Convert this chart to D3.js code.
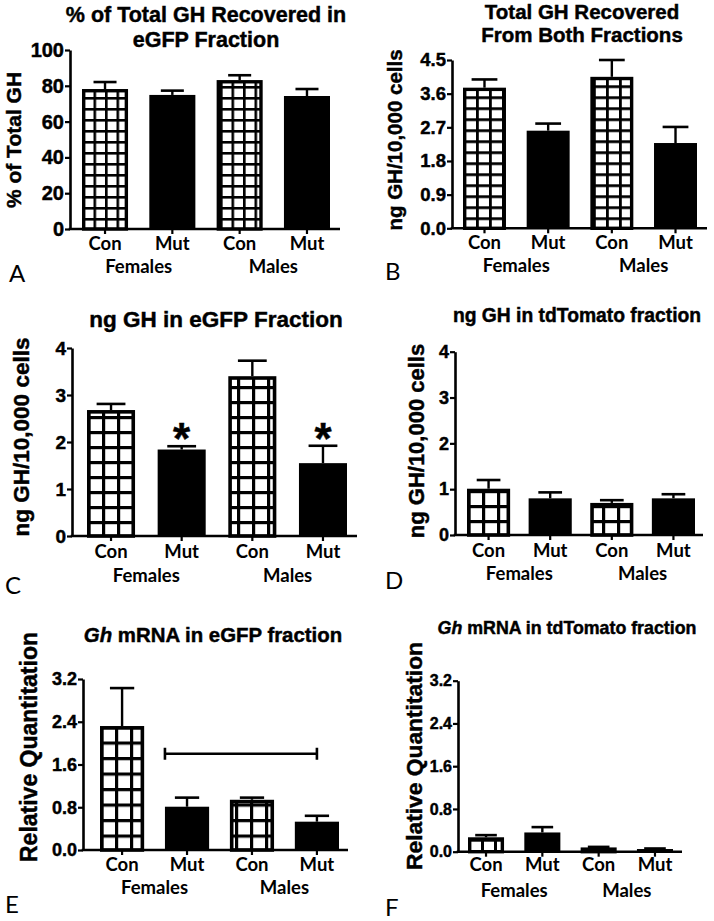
<!DOCTYPE html>
<html><head><meta charset="utf-8">
<script src="https://cdn.jsdelivr.net/npm/d3@7"></script>
<style>body{margin:0;background:#fff} svg{display:block}</style>
</head><body>
<svg id="fig" width="714" height="921"></svg>
<script>
// ---------- DATA ----------
const categoryKeys = ["F-Con","F-Mut","M-Con","M-Mut"];
const categories = ["Con","Mut","Con","Mut"];
const groups = ["Females","Males"];
const isMutant = [false,true,false,true];

const aMeans = [78.2, 74.9, 83.2, 74.3];
const aSem   = [3.9, 2.4, 2.7, 3.9];
const aTicks = [0,20,40,60,80,100];

const bMeans = [3.76, 2.61, 4.05, 2.28];
const bSem   = [0.22, 0.19, 0.45, 0.43];
const bTicks = [0,0.9,1.8,2.7,3.6,4.5];

const cMeans = [2.68, 1.84, 3.40, 1.55];
const cSem   = [0.13, 0.07, 0.33, 0.37];
const cTicks = [0,1,2,3,4];
const cSignificant = [false,true,false,true];

const dMeans = [1.01, 0.80, 0.70, 0.80];
const dSem   = [0.19, 0.13, 0.06, 0.09];
const dTicks = [0,1,2,3,4];

const eMeans = [2.32, 0.81, 0.94, 0.53];
const eSem   = [0.71, 0.17, 0.04, 0.11];
const eTicks = [0,0.8,1.6,2.4,3.2];
const eBracketValue = 1.8;

const fMeans = [0.27, 0.36, 0.08, 0.05];
const fSem   = [0.04, 0.10, 0.01, 0.01];
const fTicks = [0,0.8,1.6,2.4,3.2];

// ---------- LAYOUT ----------
const svg = d3.select("#fig");
const defs = svg.append("defs");
const TITLE_FONT = "'Liberation Sans', Arial, sans-serif";
const CAT_FONT = "Lato, 'Open Sans', sans-serif";
const HEAVY = 0.45;

function boldText(sel, size) {
  return sel.attr("font-family",TITLE_FONT).attr("font-weight","bold").attr("font-size",size)
    .attr("fill","#000").attr("stroke","#000").attr("stroke-width",HEAVY);
}

function drawPanel(o) {
  const g = svg.append("g");
  const x = d3.scaleBand().domain(categoryKeys)
    .range([o.barL, o.barR]).paddingInner(o.pad).paddingOuter(0);
  const y = d3.scaleLinear().domain([0, o.max]).range([o.y0, o.yTop]);
  const bw = x.bandwidth();

  // hatch pattern
  const pid = "grid-" + o.id;
  const pat = defs.append("pattern").attr("id", pid)
    .attr("patternUnits","userSpaceOnUse")
    .attr("x", o.barL).attr("y", o.y0 - o.cellH*Math.ceil((o.y0-o.yTop)/o.cellH))
    .attr("width", o.cellW).attr("height", o.cellH);
  pat.append("rect").attr("width", o.cellW).attr("height", o.cellH).attr("fill","#fff");
  pat.append("rect").attr("x",0).attr("y",0).attr("width", o.lw).attr("height", o.cellH).attr("fill","#000");
  pat.append("rect").attr("x",0).attr("y",0).attr("width", o.cellW).attr("height", o.lw).attr("fill","#000");

  const data = categoryKeys.map((k,i)=>({k, i, m:o.means[i], s:o.sem[i], mut:isMutant[i]}));

  // error bars (upper only)
  const eb = g.selectAll(".eb").data(data).enter().append("g");
  eb.append("line")
    .attr("x1", d=>x(d.k)+bw/2).attr("x2", d=>x(d.k)+bw/2)
    .attr("y1", d=>y(d.m)).attr("y2", d=>y(d.m+d.s))
    .attr("stroke","#000").attr("stroke-width",2.4);
  eb.append("line")
    .attr("x1", d=>x(d.k)+bw/2 - bw*o.cap/2).attr("x2", d=>x(d.k)+bw/2 + bw*o.cap/2)
    .attr("y1", d=>y(d.m+d.s)).attr("y2", d=>y(d.m+d.s))
    .attr("stroke","#000").attr("stroke-width",2.6);

  // bars
  g.selectAll(".bar").data(data).enter().append("rect")
    .attr("x", d=>x(d.k) + (d.mut?0:o.ow/2))
    .attr("width", d=> bw - (d.mut?0:o.ow))
    .attr("y", d=>y(d.m) + (d.mut?0:o.ow/2))
    .attr("height", d=> Math.max(0, y(0)-y(d.m) - (d.mut?0:o.ow/2)))
    .attr("fill", d=> d.mut ? "#000" : `url(#${pid})`)
    .attr("stroke", d=> d.mut ? "none" : "#000")
    .attr("stroke-width", o.ow);

  // y axis
  const yAxis = d3.axisLeft(y).tickValues(o.ticks).tickSize(5).tickSizeOuter(0).tickPadding(1)
    .tickFormat(o.fmt);
  const ya = g.append("g").attr("transform", `translate(${o.axisX},0)`).call(yAxis);
  ya.select(".domain").attr("stroke","#000").attr("stroke-width",2.6);
  ya.selectAll(".tick line").attr("stroke","#000").attr("stroke-width",2.2);
  boldText(ya.selectAll(".tick text"), o.tickFont);

  // x axis
  const xa = g.append("g").attr("transform", `translate(0,${o.y0})`)
    .call(d3.axisBottom(x).tickSize(5).tickSizeOuter(0).tickFormat((d,i)=>categories[i]));
  xa.select(".domain").remove();
  xa.selectAll(".tick line").attr("stroke","#000").attr("stroke-width",2.2);
  xa.selectAll(".tick text").attr("y", o.catY - o.y0).attr("dy",null)
    .attr("font-family",CAT_FONT).attr("font-weight","bold").attr("font-size",18.5).attr("fill","#000");
  g.append("line").attr("x1", o.axisX-1.3).attr("x2", o.axisEnd)
    .attr("y1", o.y0).attr("y2", o.y0).attr("stroke","#000").attr("stroke-width",2.6);

  // group labels
  groups.forEach((gr, gi) => {
    const cx = (x(categoryKeys[gi*2]) + x(categoryKeys[gi*2+1]) + bw) / 2;
    g.append("text").attr("x", cx).attr("y", o.groupY).attr("text-anchor","middle")
      .attr("font-family",CAT_FONT).attr("font-weight","bold").attr("font-size",18.5).text(gr);
  });

  // title
  o.title.forEach((line, li) => {
    const t = boldText(g.append("text").attr("x", o.titleX).attr("y", o.titleY[li]).attr("text-anchor","middle"), o.titleSize);
    line.forEach(seg => t.append("tspan").attr("font-style", seg.it ? "italic" : "normal").text(seg.t));
  });

  // y label
  boldText(g.append("text").attr("transform", `translate(${o.yLabelX},${o.yLabelY}) rotate(-90)`)
    .attr("text-anchor","middle"), o.yLabelSize).text(o.yLabel);

  // panel letter
  g.append("text").attr("x", o.letterX).attr("y", o.letterY)
    .attr("font-family",CAT_FONT).attr("font-size",24).attr("font-weight","normal").text(o.id);

  return {g, x, y, bw, data};
}

const fmt0 = d3.format("d"), fmt1 = d3.format(".1f");

drawPanel({id:"A", means:aMeans, sem:aSem, ticks:aTicks, fmt:fmt0, max:100,
  axisX:70, axisEnd:340, y0:229, yTop:50, barL:82, barR:330, pad:0.316,
  tickFont:20, cap:0.5, cellW:11.5, cellH:11, lw:2.6, ow:3.4,
  yLabel:"% of Total GH", yLabelX:21, yLabelY:140, yLabelSize:21,
  title:[[{t:"% of Total GH Recovered in"}],[{t:"eGFP Fraction"}]], titleX:206, titleY:[22,47], titleSize:21.5,
  catY:250, groupY:272.5, letterX:9, letterY:282});

drawPanel({id:"B", means:bMeans, sem:bSem, ticks:bTicks, fmt:fmt1, max:4.5,
  axisX:452, axisEnd:707, y0:228.3, yTop:60, barL:463, barR:697, pad:0.325,
  tickFont:18.5, cap:0.6, cellW:13, cellH:11, lw:2.8, ow:3.4,
  yLabel:"ng GH/10,000 cells", yLabelX:402, yLabelY:140, yLabelSize:20.5,
  title:[[{t:"Total GH Recovered"}],[{t:"From Both Fractions"}]], titleX:582, titleY:[18.5,42], titleSize:20.5,
  catY:249, groupY:271.5, letterX:385, letterY:280});

const pc = drawPanel({id:"C", means:cMeans, sem:cSem, ticks:cTicks, fmt:fmt0, max:4,
  axisX:72, axisEnd:357, y0:536, yTop:348, barL:87, barR:347, pad:0.32,
  tickFont:19, cap:0.6, cellW:15, cellH:15, lw:3.2, ow:3.6,
  yLabel:"ng GH/10,000 cells", yLabelX:29, yLabelY:437, yLabelSize:22.5,
  title:[[{t:"ng GH in eGFP Fraction"}]], titleX:216, titleY:[327], titleSize:22.5,
  catY:558, groupY:581.5, letterX:5, letterY:594});

// significance asterisks in C
boldText(pc.g.selectAll(".ast").data(pc.data.filter(d=>cSignificant[d.i])).enter().append("text")
  .attr("x", d=>pc.x(d.k)+pc.bw/2).attr("y", d=>pc.y(d.m+d.s) - 17 + 0.57*44)
  .attr("text-anchor","middle"), 44).text("*");

drawPanel({id:"D", means:dMeans, sem:dSem, ticks:dTicks, fmt:fmt0, max:4,
  axisX:455, axisEnd:703, y0:535, yTop:351.7, barL:467, barR:695, pad:0.30,
  tickFont:18, cap:0.55, cellW:15, cellH:15, lw:3.2, ow:3.6,
  yLabel:"ng GH/10,000 cells", yLabelX:424, yLabelY:441, yLabelSize:22,
  title:[[{t:"ng GH in tdTomato fraction"}]], titleX:577, titleY:[322], titleSize:19.3,
  catY:556.5, groupY:580, letterX:385, letterY:589});

const pe = drawPanel({id:"E", means:eMeans, sem:eSem, ticks:eTicks, fmt:fmt1, max:3.2,
  axisX:83, axisEnd:348, y0:850, yTop:679, barL:100, barR:339, pad:0.32,
  tickFont:18, cap:0.55, cellW:15, cellH:15.5, lw:3.2, ow:3.6,
  yLabel:"Relative Quantitation", yLabelX:37, yLabelY:747, yLabelSize:23,
  title:[[{t:"Gh",it:true},{t:" mRNA in eGFP fraction"}]], titleX:213, titleY:[641.5], titleSize:20.4,
  catY:870.5, groupY:894, letterX:5, letterY:913});

// bracket in E (from Mut-female to Mut-male)
{
  const x1 = pe.x("F-Mut"), x2 = pe.x("M-Mut") + pe.bw/2, yy = pe.y(eBracketValue);
  pe.g.append("path").attr("d", `M${x1},${yy-6}V${yy+6}M${x1},${yy}H${x2}M${x2},${yy-6}V${yy+6}`)
    .attr("stroke","#000").attr("stroke-width",2.6).attr("fill","none");
}

drawPanel({id:"F", means:fMeans, sem:fSem, ticks:fTicks, fmt:fmt1, max:3.2,
  axisX:458, axisEnd:682, y0:851.7, yTop:680.7, barL:468, barR:673, pad:0.36,
  tickFont:16, cap:0.6, cellW:13, cellH:13, lw:3, ow:3.4,
  yLabel:"Relative Quantitation", yLabelX:422, yLabelY:756, yLabelSize:22.8,
  title:[[{t:"Gh",it:true},{t:" mRNA in tdTomato fraction"}]], titleX:567, titleY:[634], titleSize:17.8,
  catY:871.5, groupY:896.5, letterX:385, letterY:916});
</script>
</body></html>
